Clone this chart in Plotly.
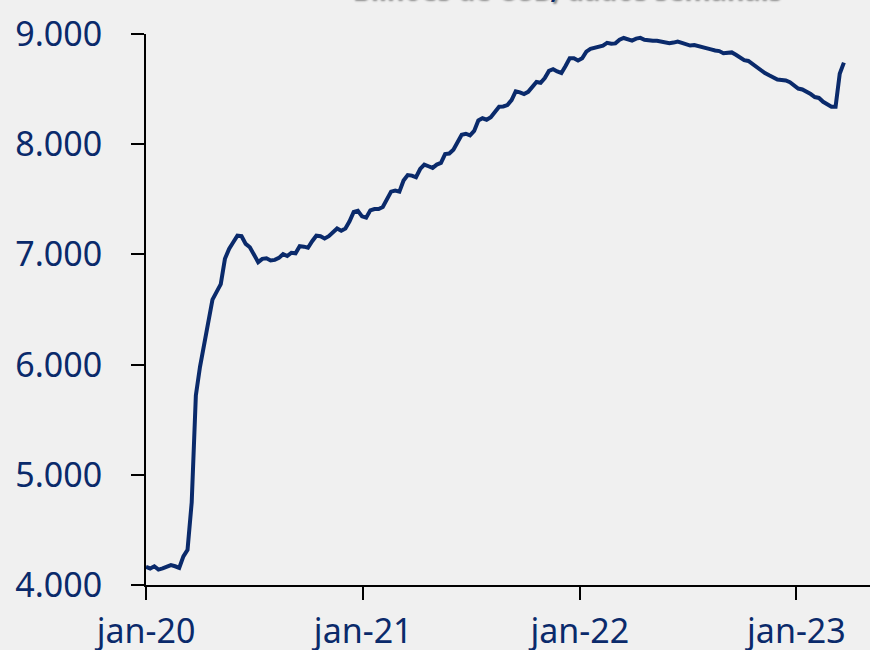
import pandas as pd
import plotly.graph_objects as go

# Weekly values (USD billions), starting first week of Jan 2020
values = [
    4165, 4150, 4170, 4140, 4150, 4170, 4180, 4170, 4155, 4260,
    4320, 4750, 5720, 5980, 6200, 6420, 6590, 6660, 6730, 6960,
    7050, 7110, 7170, 7165, 7095, 7065, 6990, 6930, 6960, 6965,
    6945, 6950, 6968, 7002, 6985, 7015, 7010, 7075, 7070, 7060,
    7120, 7170, 7165, 7145, 7165, 7205, 7235, 7215, 7235, 7300,
    7385, 7395, 7345, 7333, 7400, 7412, 7412, 7430, 7510, 7570,
    7580, 7570, 7670, 7720, 7715, 7700, 7775, 7815, 7800, 7785,
    7815, 7830, 7910, 7915, 7950, 8025, 8085, 8095, 8080, 8120,
    8215, 8235, 8222, 8245, 8300, 8340, 8342, 8355, 8400, 8480,
    8470, 8455, 8475, 8520, 8565, 8558, 8600, 8665, 8680, 8660,
    8645, 8710, 8780, 8780, 8760, 8780, 8840, 8865, 8873, 8878,
    8895, 8920, 8912, 8915, 8948, 8964, 8952, 8940, 8958, 8965,
    8948, 8939, 8939, 8939, 8930, 8917, 8917, 8922, 8932, 8920,
    8905, 8895, 8900, 8892, 8880, 8868, 8860, 8850, 8845, 8826,
    8826, 8833, 8812, 8785, 8762, 8755, 8728, 8690, 8674, 8645,
    8625, 8605, 8587, 8583, 8578, 8562, 8530, 8505, 8497, 8478,
    8455, 8428, 8420, 8385, 8365, 8340, 8340, 8640, 8740,
]
dates = pd.date_range("2020-01-01", periods=len(values), freq="7D")

x_tickvals = ["2020-01-01", "2021-01-01", "2022-01-01", "2023-01-01"]
x_ticktext = ["jan-20", "jan-21", "jan-22", "jan-23"]
y_tickvals = [4000, 5000, 6000, 7000, 8000, 9000]

title_text = "Bilhões de USD, dados semanais"

NAVY = "#0a2a6b"
BG = "#f0f0f0"
FONT = "Noto Sans"

fig = go.Figure()
fig.add_trace(go.Scatter(
    x=dates, y=values, mode="lines",
    line=dict(color=NAVY, width=4),
    hoverinfo="skip", showlegend=False,
))

fig.update_layout(
    width=870, height=650,
    margin=dict(l=146, r=0, t=34, b=65, autoexpand=False),
    paper_bgcolor=BG, plot_bgcolor=BG,
    separators=",.",
    font=dict(family=FONT, color=NAVY, size=34),
    showlegend=False,
)
fig.update_xaxes(
    range=["2020-01-01", "2023-05-05"],
    tickvals=x_tickvals, ticktext=x_ticktext,
    showgrid=False, zeroline=False, automargin=False,
    showline=True, linecolor="black", linewidth=2,
    ticks="outside", ticklen=13, tickwidth=2, tickcolor="black",
    tickfont=dict(family=FONT, size=34, color=NAVY),
    ticklabelstandoff=2,
)
fig.update_yaxes(
    range=[4000, 9000],
    tickvals=y_tickvals, tickformat=",d",
    showgrid=False, zeroline=False, automargin=False,
    showline=True, linecolor="black", linewidth=2,
    ticks="outside", ticklen=13, tickwidth=2, tickcolor="black",
    tickfont=dict(family=FONT, size=34, color=NAVY),
    ticklabelstandoff=22,
)
fig.add_annotation(
    text="<b>" + title_text + "</b>",
    xref="paper", yref="paper", x=0.579, y=1.045,
    xanchor="center", yanchor="bottom", showarrow=False,
    font=dict(family=FONT, size=27, color=NAVY, shadow="2px 2px 2px #8a8a8a"),
)

fig.write_html(
    "out.html",
    config={"displayModeBar": False},
    post_script="document.body.style.margin='0';document.body.style.overflow='hidden';",
)
